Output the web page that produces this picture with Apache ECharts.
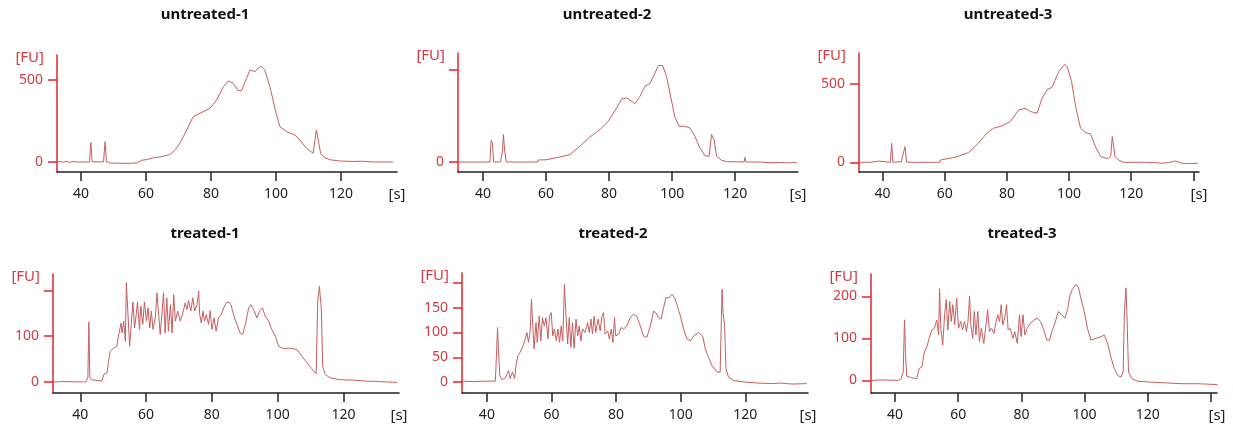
<!DOCTYPE html>
<html>
<head>
<meta charset="utf-8">
<title>Electropherograms</title>
<script src="https://cdn.jsdelivr.net/npm/echarts@6/dist/echarts.min.js"></script>
<style>
  html, body { margin: 0; padding: 0; background: #fff; }
  #chart { width: 1233px; height: 430px; }
</style>
</head>
<body>
<div id="chart"></div>
<script>
// panel titles
const titles = ['untreated-1', 'untreated-2', 'untreated-3', 'treated-1', 'treated-2', 'treated-3']

// traces, [time (s), fluorescence (FU)]
const untreated1 = [[32.6,0],[33.5,4],[34.5,-2],[35.5,5],[36.5,-3],[37.5,3],[38.5,0],[40,0],[42.6,0],[43.0,118],[43.4,2],[46.9,0],[47.4,124],[47.8,2],[49,-6],[52,-8],[55,-8],[57.1,-6],[58.6,10],[60,14],[62.2,25],[64.5,32],[67.3,45],[69,75],[70.4,114],[72.5,195],[74.5,276],[76.6,297],[79.7,327],[81.7,378],[83.8,459],[85.3,494],[86.8,480],[88.3,435],[89.4,435],[90.9,510],[92,561],[93.5,551],[95.3,585],[96.5,561],[98.1,459],[100,297],[101.2,215],[103.2,185],[105.8,165],[107.3,134],[109.4,83],[111.4,53],[112,60],[112.4,195],[113,185],[113.7,53],[115,26],[116.5,14],[119.6,6],[123.7,3],[126,5],[130,0],[136,0]]

const untreated2 = [[32.1,0],[35,0],[40,0],[42.2,0],[42.6,117],[43.0,103],[43.4,0],[45.6,0],[46.2,58],[46.5,148],[46.9,60],[47.4,0],[50,0],[57.3,0],[57.5,11],[60,12],[64.4,27],[67.6,40],[70.7,85],[73.9,135],[77.1,175],[79.7,220],[82.4,292],[84,341],[85.6,346],[87,330],[88.2,315],[89.8,355],[91.4,409],[92.9,423],[94.2,467],[95.6,521],[97,521],[98.2,463],[99.3,373],[100.8,247],[102.2,193],[104,193],[105.6,184],[107.2,139],[108.8,76],[110.4,34],[111.7,31],[112.5,148],[113.3,121],[114.1,31],[115.7,9],[117.3,2],[122.8,0],[123.1,25],[123.4,0],[128,0],[131,-4],[134,-2],[137,-5],[139.5,-3]]

const untreated3 = [[32.4,0],[36,0],[38.9,8],[39.3,0],[42.5,0],[42.9,122],[43.3,0],[46.0,4],[46.6,9],[47.2,100],[47.7,2],[50,0],[55,0],[58.4,0],[58.6,15],[63.3,32],[67.6,62],[70.8,122],[73.5,186],[75.7,218],[78.4,233],[81.1,261],[83.8,335],[85.9,346],[87.6,325],[89.7,314],[91.3,410],[92.9,464],[94.5,481],[96.7,581],[98.6,628],[99.4,613],[100.8,517],[102.1,357],[103.7,218],[105.3,190],[106.9,182],[108.5,100],[110.2,36],[112.6,24],[113.4,40],[113.9,165],[114.8,36],[116.1,12],[117.7,0],[125,0],[128.4,-3],[130,-6],[132,-2],[134.3,9],[136,-5],[138,-8],[141.4,-6]]

const treated1 = [[31.7,0],[35,1],[41,0],[41.8,1],[42.3,10],[42.6,131],[42.9,10],[43.5,5],[46.6,2],[47.1,16],[48.1,20],[48.6,45],[49.1,67],[50.1,74],[51.1,78],[51.7,104],[52.4,129],[52.7,107],[53.2,133],[53.7,89],[54,217],[54.5,147],[55,78],[55.5,126],[56,175],[56.5,118],[57,147],[57.4,175],[58,115],[58.4,166],[59,126],[59.5,175],[60.1,133],[60.6,162],[61.1,118],[61.6,155],[62.1,115],[62.8,140],[63.3,195],[63.9,195],[64.3,104],[64.8,147],[65.3,195],[65.8,107],[66.3,184],[66.8,111],[67.4,169],[67.9,107],[68.4,191],[68.9,133],[69.6,155],[70.4,133],[71.2,151],[71.9,173],[72.4,158],[72.9,178],[73.6,155],[74.2,184],[74.8,155],[75.5,169],[76,199],[76.3,147],[76.8,129],[77.3,155],[77.8,133],[78.3,147],[79,126],[79.5,156],[80,115],[80.7,140],[81.3,111],[82,140],[82.8,147],[83.6,162],[84.4,173],[85.2,175],[85.8,169],[86.6,147],[87.6,126],[88.6,107],[89.4,104],[90.2,126],[91.2,162],[91.9,169],[92.7,158],[93.7,140],[94.5,155],[95.4,162],[96.2,144],[97.2,134],[98.2,115],[99.3,100],[100.3,78],[101.8,73],[103.8,74],[105.9,71],[107.4,56],[108.9,42],[110.4,29],[111.7,18],[112.2,177],[112.7,209],[113.3,158],[113.7,34],[114.5,16],[116,9],[119,5],[123.1,4],[127.1,2],[131,1],[136.3,-1]]

const treated2 = [[32.3,2],[36,1],[40,2],[42.6,2],[42.8,27],[43.3,110],[43.6,63],[44,13],[44.6,5],[45.7,8],[46.7,23],[47.2,7],[47.9,20],[48.6,7],[49,33],[49.6,53],[50.3,60],[51,70],[51.7,83],[52.4,100],[52.9,80],[53.4,103],[53.8,167],[54.2,163],[54.6,67],[55.2,120],[55.6,80],[56.2,133],[56.7,83],[57.2,130],[57.8,113],[58.3,130],[58.9,87],[59.4,133],[59.9,140],[60.4,93],[60.9,107],[61.5,83],[62,107],[62.5,80],[63,113],[63.5,83],[64,197],[64.5,133],[65,77],[65.5,130],[66,70],[66.5,120],[67,68],[67.6,127],[68.1,93],[68.6,113],[69.1,83],[69.6,107],[70.4,100],[71.2,120],[71.7,100],[72.2,127],[72.7,97],[73.2,133],[73.7,100],[74.4,127],[75.1,103],[75.6,133],[76.1,140],[76.6,97],[77.4,103],[77.9,87],[78.5,107],[79,80],[79.5,130],[79.9,93],[80.8,97],[81.6,110],[82.3,107],[83.3,113],[84.4,130],[85.4,137],[86.4,133],[87.5,113],[88.5,93],[89.5,90],[90.6,113],[91.6,143],[92.3,140],[93.1,130],[93.9,127],[94.7,150],[95.4,170],[96.4,170],[97.3,177],[98.1,170],[98.8,157],[99.9,133],[100.9,107],[101.9,87],[103,83],[104,93],[105.5,100],[106.8,93],[107.6,67],[108.6,50],[109.7,33],[111.2,20],[112.2,20],[112.8,187],[113.1,140],[113.6,113],[114,27],[114.8,10],[116.4,3],[120,0],[124.1,-2],[128,-3],[131,-2],[134.4,-4],[139,-3]]

const treated3 = [[32.6,0],[36,1],[41.1,0],[41.9,4],[42.6,20],[43,144],[43.3,64],[43.7,10],[45.3,6],[46.9,4],[47.6,28],[48.5,32],[49.3,68],[50.1,80],[50.8,100],[51.7,120],[52.5,124],[53.2,144],[53.8,108],[54.1,218],[54.5,124],[55.1,84],[55.7,156],[56.2,192],[56.7,120],[57.3,188],[57.8,140],[58.3,180],[58.9,132],[59.5,196],[60.1,124],[60.8,140],[61.4,120],[62,140],[62.6,116],[63.1,140],[63.6,200],[64,132],[64.6,100],[65.1,164],[65.6,108],[66.2,164],[66.7,92],[67.3,124],[68.1,88],[68.8,132],[69.3,168],[69.9,116],[70.5,124],[71.3,112],[72,140],[72.5,156],[73.1,140],[73.6,180],[74.1,132],[74.7,148],[75.3,180],[75.8,120],[76.5,124],[77.3,100],[77.9,116],[78.7,88],[79.4,156],[79.9,104],[80.5,156],[81.1,108],[81.8,124],[82.9,136],[84,144],[85,148],[86.1,140],[87.1,120],[88,96],[88.9,96],[89.8,120],[90.6,136],[91.7,164],[92.8,156],[93.8,148],[94.6,168],[95.3,200],[96.1,216],[97.2,228],[98.1,220],[98.8,196],[99.9,164],[100.9,124],[102,96],[103.6,100],[105.2,104],[106.2,108],[107.3,88],[108.3,56],[109.4,28],[110.4,12],[111.5,8],[112.2,20],[112.6,164],[113.1,220],[113.4,156],[113.9,20],[115,4],[116.8,-2],[120.5,-4],[126,-6],[131.1,-8],[136,-8],[142,-10]]

// tick positions and tick labels
const xTicks = [40, 60, 80, 100, 120]
const xTicksLong = [40, 60, 80, 100, 120, 140]
const xLabels = [40, 60, 80, 100, 120]
const u1YTicks = [0, 500], u1YLabels = [0, 500]
const u2YTicks = [0, 500], u2YLabels = [0]
const u3YTicks = [0, 500], u3YLabels = [0, 500]
const t1YTicks = [0, 100, 200], t1YLabels = [0, 100]
const t2YTicks = [0, 50, 100, 150, 200], t2YLabels = [0, 50, 100, 150]
const t3YTicks = [0, 100, 200], t3YLabels = [0, 100, 200]

const traceColor = '#c65e60'
const redAxis = '#e3242c'
const redText = '#d63b42'
const darkAxis = '#222'
const font = 'Noto Sans'

// layout of the six panels (grid box in px, axis ranges)
const panels = [
  { data: untreated1, box: { left: 57, top: 55, width: 340, height: 117 }, x: [32.6, 137.2], y: [-61, 652], yTicks: u1YTicks, yLabels: u1YLabels, xTicks: xTicks, title: [205, 7] },
  { data: untreated2, box: { left: 458, top: 53, width: 340, height: 119 }, x: [32.1, 139.9], y: [-54, 589], yTicks: u2YTicks, yLabels: u2YLabels, xTicks: xTicks, title: [607, 7] },
  { data: untreated3, box: { left: 859, top: 53, width: 340, height: 119 }, x: [32.4, 141.8], y: [-62, 700], yTicks: u3YTicks, yLabels: u3YLabels, xTicks: xTicksLong, title: [1008, 7] },
  { data: treated1, box: { left: 53, top: 274, width: 346, height: 119 }, x: [31.7, 136.9], y: [-24, 236], yTicks: t1YTicks, yLabels: t1YLabels, xTicks: xTicks, title: [205, 226] },
  { data: treated2, box: { left: 462, top: 273, width: 346, height: 120 }, x: [32.3, 139.4], y: [-22, 220], yTicks: t2YTicks, yLabels: t2YLabels, xTicks: xTicks, title: [613, 226] },
  { data: treated3, box: { left: 871, top: 274, width: 346, height: 119 }, x: [32.4, 141.9], y: [-30, 253], yTicks: t3YTicks, yLabels: t3YLabels, xTicks: xTicksLong, title: [1022, 226] }
]

const chart = echarts.init(document.getElementById('chart'))

const option = {
  backgroundColor: '#fff',
  animation: false,
  title: panels.map((p, i) => ({
    text: titles[i],
    left: p.title[0],
    top: p.title[1],
    textAlign: 'center',
    padding: 0,
    textStyle: { fontFamily: font, fontSize: 15, fontWeight: 'bold', color: '#111' }
  })),
  grid: panels.map(p => ({ ...p.box, containLabel: false, outerBoundsMode: 'none' })),
  xAxis: panels.map((p, i) => ({
    type: 'value',
    gridIndex: i,
    min: p.x[0],
    max: p.x[1],
    name: '[s]',
    nameLocation: 'end',
    nameGap: 0,
    nameTextStyle: {
      fontFamily: font, fontSize: 15, color: darkAxis,
      align: 'center', verticalAlign: 'top', lineHeight: 45
    },
    axisLine: { onZero: false, lineStyle: { color: darkAxis, width: 1.5 } },
    axisTick: { length: 9, customValues: p.xTicks, lineStyle: { color: darkAxis, width: 1.5 } },
    axisLabel: { customValues: xLabels, margin: 15, fontFamily: font, fontSize: 14, color: darkAxis },
    splitLine: { show: false }
  })),
  yAxis: panels.map((p, i) => ({
    type: 'value',
    gridIndex: i,
    min: p.y[0],
    max: p.y[1],
    name: '[FU]',
    nameLocation: 'end',
    nameGap: -3,
    nameTextStyle: {
      fontFamily: font, fontSize: 15, color: redText,
      align: 'right', verticalAlign: 'middle', padding: [0, 13, 0, 0]
    },
    axisLine: { show: true, onZero: false, lineStyle: { color: redAxis, width: 1.5 } },
    axisTick: { show: true, length: 9, customValues: p.yTicks, lineStyle: { color: redAxis, width: 1.5 } },
    axisLabel: { customValues: p.yLabels, margin: 14, fontFamily: font, fontSize: 14, color: redText },
    splitLine: { show: false }
  })),
  series: panels.map((p, i) => ({
    type: 'line',
    xAxisIndex: i,
    yAxisIndex: i,
    data: p.data,
    showSymbol: false,
    symbol: 'none',
    lineStyle: { color: traceColor, width: 1 },
    silent: true
  }))
}

chart.setOption(option)
window.addEventListener('resize', () => chart.resize())
</script>
</body>
</html>
